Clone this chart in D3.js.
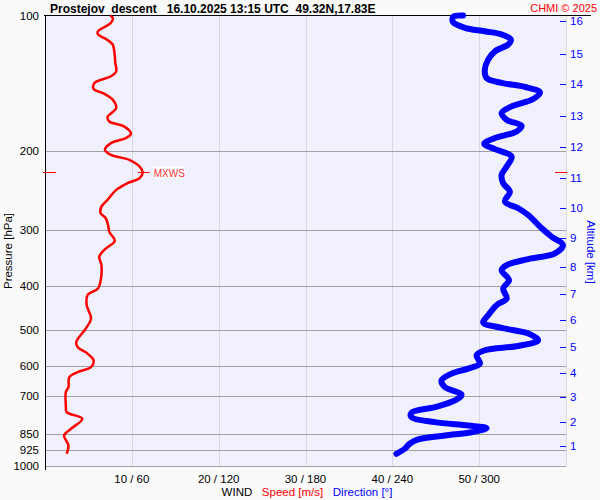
<!DOCTYPE html>
<meta charset="utf-8">
<style>
  body { margin: 0; background: #fafafa; }
  svg text { font-family: Arial, "Liberation Sans", sans-serif; }
</style>
<body>
<script src="https://d3js.org/d3.v7.min.js"></script>
<script>
// wind speed profile [hPa] / [m/s]
var speedPress = [100, 101.2, 103.8, 108.4, 110.2, 112.7, 116, 121.1, 127.5, 133.1, 136.5, 141.2, 145.6, 149.2, 153.8,
  160.6, 168.1, 172, 176.4, 183.2, 187.2, 192.1, 198.8, 204, 209.3, 216.6, 222.9, 229.9, 235.9, 244.1, 256.9, 265.9,
  275, 282.2, 294.6, 302.3, 314.4, 318.3, 332.1, 343.7, 358.6, 383.9, 404.1, 418.2, 440.2, 471.3, 496.1, 531.5,
  545.3, 564.1, 583.8, 604.2, 619.9, 636, 669.5, 686.8, 735.3, 761, 787.2, 828.6, 857.5, 902.6, 941.8];
var speedVal = [7.5, 7.8, 7.6, 6.1, 6.1, 7.0, 7.8, 8.0, 8.1, 8.2, 7.6, 5.7, 5.6, 6.8, 7.8,
  8.2, 7.2, 7.4, 9.1, 9.9, 9.3, 7.6, 6.9, 7.6, 9.7, 10.9, 11.25, 10.9, 9.5, 8.2, 7.2, 6.5,
  6.4, 7.0, 7.3, 7.4, 8.0, 8.0, 6.8, 6.25, 6.5, 6.45, 6.1, 4.9, 4.8, 5.3, 4.7, 3.6,
  3.75, 4.9, 5.6, 5.3, 3.75, 2.8, 2.7, 2.4, 2.4, 2.5, 4.3, 3.0, 2.2, 2.7, 2.5];

// wind direction profile [hPa] / [deg]
var dirPress = [100, 100.7, 103.5, 106.5, 108.4, 110.2, 113.1, 116, 120.1, 125.3, 131.9, 137.7, 141.2, 144.1, 148.2,
  153.3, 159.2, 164.7, 170.5, 175.8, 181, 187.2, 192.8, 198.1, 205.8, 216.6, 226, 235.9, 246.3, 259.2, 268.1,
  277.5, 297.1, 310.2, 323.6, 337.8, 347.8, 358.6, 368, 387.3, 404.1, 425.4, 440.2, 463.4, 481.1, 494.6, 509,
  526.9, 542.5, 554.6, 568.9, 593.7, 609.2, 625, 646.9, 669.5, 696.1, 716.8, 741.8, 763.4, 780.8, 801.1, 814.8,
  826.1, 843.3, 857.5, 875.2, 894.8, 917.8, 941.8];
var dirVal = [288.9, 282, 282, 290.1, 303.9, 315.5, 321.9, 320.1, 310.9, 306.2, 303.9, 305.1, 315.5, 331.6, 342,
  337.4, 322.4, 315.5, 319, 329.3, 325.9, 310.9, 303.5, 310.9, 322.4, 319, 315.5, 316.6, 321.2, 317.8, 327,
  333.9, 343.2, 350.1, 357.9, 352.4, 333.9, 319, 315.5, 320.6, 316.6, 319, 312, 306.2, 302.8, 315.5, 333.9,
  340.8, 327, 303.9, 298.2, 300.5, 292.4, 280.9, 274, 276.3, 287.8, 283.2, 269.3, 253.2, 253.2, 269.3, 292.4,
  305.1, 294.7, 276.3, 257.8, 252, 248.6, 242.8];

var pressTicks = [100, 200, 300, 400, 500, 600, 700, 850, 925, 1000];
var speedTicks = [10, 20, 30, 40, 50];
var dirTicks = [60, 120, 180, 240, 300];
var altKm = [1, 2, 3, 4, 5, 6, 7, 8, 9, 10, 11, 12, 13, 14, 15, 16];
var altPress = [907, 802, 706, 624, 546, 476, 416, 362, 312, 268, 230, 196, 167, 142, 121.5, 103];
var mxwsPress = 223, mxwsSpeed = 11.25;

var W = 600, H = 500;
var pL = 45, pR = 566, pT = 15.5, pB = 465.5;

var svg = d3.select('body').append('svg').attr('width', W).attr('height', H);

var y = d3.scaleLog().domain([100, 1000]).range([pT, pB]);
var xs = d3.scaleLinear().domain([0, 60]).range([pL, pR]);
var xd = d3.scaleLinear().domain([0, 360]).range([pL, pR]);

// plot background
svg.append('rect').attr('x', pL).attr('y', pT).attr('width', pR - pL).attr('height', pB - pT)
  .attr('fill', '#f1f1fd');

// vertical grid
svg.selectAll('line.vg').data(speedTicks.concat([60])).enter().append('line')
  .attr('x1', d => Math.round(xs(d)) + 0.5).attr('x2', d => Math.round(xs(d)) + 0.5)
  .attr('y1', pT).attr('y2', pB)
  .attr('stroke', '#d8d8e0').attr('stroke-width', 1);

// horizontal grid
svg.selectAll('line.hg').data(pressTicks.slice(1)).enter().append('line')
  .attr('x1', pL).attr('x2', pR)
  .attr('y1', d => Math.round(y(d)) + 0.5).attr('y2', d => Math.round(y(d)) + 0.5)
  .attr('stroke', '#a0a0a0').attr('stroke-width', 1);

// axes frame
svg.append('line').attr('x1', pL - 1).attr('x2', 591).attr('y1', 15.5).attr('y2', 15.5).attr('stroke', '#000');
svg.append('line').attr('x1', pL + 0.5).attr('x2', pL + 0.5).attr('y1', 15).attr('y2', 470).attr('stroke', '#000');

// pressure labels
svg.selectAll('text.pl').data(pressTicks).enter().append('text')
  .attr('x', 39).attr('y', d => y(d) + 4)
  .attr('text-anchor', 'end').attr('font-size', 11.5).attr('fill', '#000')
  .text(d => d);

svg.append('text').attr('transform', 'translate(12,251) rotate(-90)')
  .attr('text-anchor', 'middle').attr('font-size', 11.5).text('Pressure [hPa]');

// wind tick labels
svg.selectAll('text.wl').data(speedTicks).enter().append('text')
  .attr('x', (d, i) => xs(d)).attr('y', 483)
  .attr('text-anchor', 'middle').attr('font-size', 11.5)
  .text((d, i) => d + ' / ' + dirTicks[i]);

var leg = svg.append('text').attr('x', 307).attr('y', 496).attr('text-anchor', 'middle').attr('font-size', 11.5)
  .style('white-space', 'pre');
leg.append('tspan').attr('fill', '#000').text('WIND   ');
leg.append('tspan').attr('fill', '#ff0000').text('Speed [m/s]   ');
leg.append('tspan').attr('fill', '#0000ff').text('Direction [°]');

// altitude axis
svg.selectAll('line.at').data(altPress).enter().append('line')
  .attr('x1', 560).attr('x2', 566)
  .attr('y1', d => Math.round(y(d)) + 0.5).attr('y2', d => Math.round(y(d)) + 0.5)
  .attr('stroke', '#0000ff');
svg.selectAll('text.al').data(altPress).enter().append('text')
  .attr('x', 570).attr('y', d => y(d) + 4)
  .attr('font-size', 11.5).attr('fill', '#0000ff')
  .text((d, i) => altKm[i]);
svg.append('text').attr('transform', 'translate(587,252) rotate(90)')
  .attr('text-anchor', 'middle').attr('font-size', 11.5).attr('fill', '#0000ff').text('Altitude [km]');

// direction line
var dirLine = d3.line().x(d => xd(d[1])).y(d => y(d[0])).curve(d3.curveCatmullRom);
svg.append('path').datum(dirPress.map((p, i) => [p, dirVal[i]]))
  .attr('d', dirLine).attr('fill', 'none').attr('stroke', '#0000ff')
  .attr('stroke-width', 6).attr('stroke-linecap', 'round').attr('stroke-linejoin', 'round');

// speed line
var spdLine = d3.line().x(d => xs(d[1])).y(d => y(d[0])).curve(d3.curveCatmullRom);
svg.append('path').datum(speedPress.map((p, i) => [p, speedVal[i]]))
  .attr('d', spdLine).attr('fill', 'none').attr('stroke', '#ff0000')
  .attr('stroke-width', 2.5).attr('stroke-linejoin', 'round');

// MXWS markers
var my = Math.round(y(mxwsPress)) + 0.5;
svg.append('line').attr('x1', 43).attr('x2', 56).attr('y1', my).attr('y2', my).attr('stroke', '#ff0000');
svg.append('line').attr('x1', 555).attr('x2', 567).attr('y1', my).attr('y2', my).attr('stroke', '#ff0000');
svg.append('line').attr('x1', xs(mxwsSpeed) - 5).attr('x2', xs(mxwsSpeed) + 7).attr('y1', my).attr('y2', my)
  .attr('stroke', '#ff0000');
svg.append('rect').attr('x', xs(mxwsSpeed) + 10).attr('y', my - 6).attr('width', 32).attr('height', 12)
  .attr('fill', '#ffffff').attr('opacity', 0.8);
svg.append('text').attr('x', xs(mxwsSpeed) + 11).attr('y', my + 4)
  .attr('font-size', 10).attr('fill', '#ff3333').text('MXWS');

// title
svg.append('text').attr('x', 50).attr('y', 13).attr('font-size', 12).attr('font-weight', 'bold')
  .style('white-space', 'pre')
  .text('Prostejov  descent   16.10.2025 13:15 UTC  49.32N,17.83E');
svg.append('text').attr('x', 597).attr('y', 12).attr('text-anchor', 'end').attr('font-size', 11)
  .attr('fill', '#ff0000').text('CHMI © 2025');
</script>
</body>
